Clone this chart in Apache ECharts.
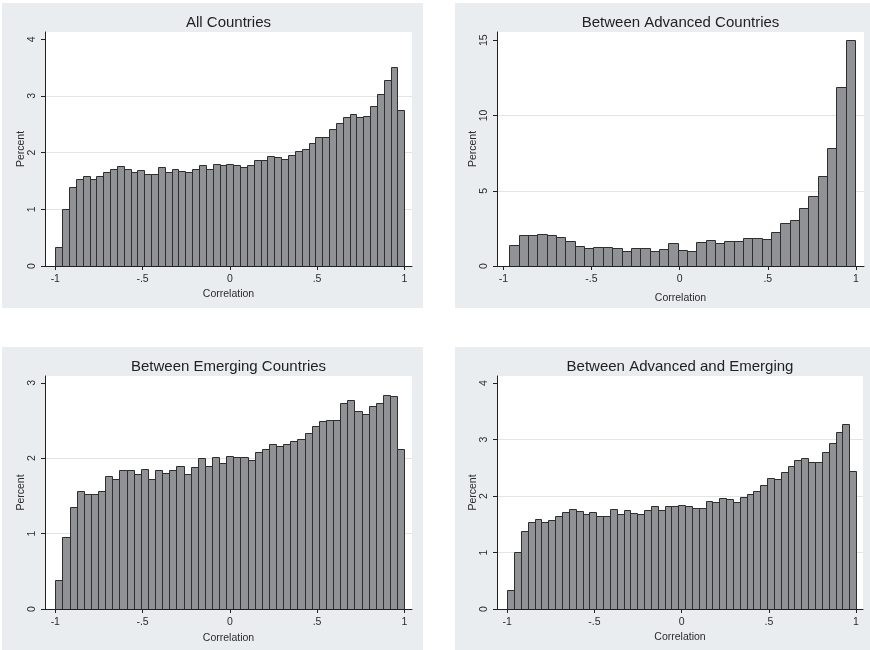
<!DOCTYPE html>
<html>
<head>
<meta charset="utf-8">
<title>Correlation histograms</title>
<script src="https://cdn.jsdelivr.net/npm/echarts@6/dist/echarts.min.js"></script>
<style>
  html, body { margin: 0; padding: 0; background: #ffffff; }
  #chart { width: 870px; height: 650px; }
</style>
</head>
<body>
<div id="chart"></div>
<script>
// Histogram heights (percent of pairs per bin)
const allCountries = [0.33,1.00,1.40,1.54,1.58,1.54,1.58,1.65,1.71,1.76,1.72,1.65,1.69,1.62,1.62,1.75,1.65,1.72,1.67,1.65,1.72,1.79,1.72,1.80,1.79,1.80,1.78,1.75,1.78,1.87,1.87,1.94,1.92,1.88,1.95,2.02,2.06,2.17,2.27,2.27,2.41,2.52,2.62,2.68,2.62,2.64,2.83,3.03,3.29,3.51,2.75];
const advancedCountries = [1.38,2.03,2.03,2.12,2.05,1.90,1.66,1.33,1.20,1.25,1.28,1.19,0.98,1.19,1.19,0.99,1.11,1.54,1.06,1.02,1.62,1.74,1.53,1.67,1.67,1.87,1.84,1.82,2.28,2.83,3.04,3.83,4.64,5.97,7.85,11.90,15.05];
const emergingCountries = [0.38,0.955,1.35,1.57,1.52,1.52,1.56,1.77,1.73,1.84,1.84,1.79,1.86,1.73,1.85,1.80,1.85,1.90,1.79,1.88,2.00,1.89,2.02,1.94,2.03,2.01,2.01,1.98,2.08,2.12,2.19,2.16,2.19,2.23,2.25,2.34,2.43,2.49,2.51,2.51,2.73,2.77,2.62,2.58,2.69,2.73,2.84,2.82,2.12];
const advancedEmerging = [0.34,1.01,1.38,1.54,1.59,1.54,1.58,1.65,1.72,1.77,1.73,1.68,1.72,1.65,1.65,1.77,1.68,1.75,1.70,1.69,1.75,1.82,1.76,1.83,1.82,1.84,1.82,1.78,1.79,1.91,1.89,1.96,1.95,1.89,1.98,2.04,2.09,2.19,2.31,2.30,2.43,2.53,2.63,2.67,2.60,2.60,2.77,2.93,3.14,3.28,2.44];

// Range of the binned correlations in each histogram
const binRangeAll = [-1, 1];
const binRangeAdvanced = [-0.966, 0.996];
const binRangeEmerging = [-1, 1];
const binRangeAdvEm = [-1, 1];

// Titles and tick labels
const panelTitles = ['All Countries', 'Between Advanced Countries', 'Between Emerging Countries', 'Between Advanced and Emerging'];
const xTickValues = [-1, -0.5, 0, 0.5, 1];
const xTickLabels = ['-1', '-.5', '0', '.5', '1'];
const yTicksAll = [0, 1, 2, 3, 4];
const yTicksAdvanced = [0, 5, 10, 15];
const yTicksEmerging = [0, 1, 2, 3];
const yTicksAdvEm = [0, 1, 2, 3, 4];
const xAxisTitle = 'Correlation';
const yAxisTitle = 'Percent';

const FONT = '"Liberation Sans", Arial, Helvetica, sans-serif';
const TEXT = '#2b2b2b';

const panels = [
  { heights: allCountries, range: binRangeAll, yTicks: yTicksAll, yStep: 1,
    grid: { left: 45, top: 32, width: 367, height: 234 },
    xExt: [-1.059, 1.044], yMax: 4.128, nameGap: 23,
    bg: [2, 3, 421, 305], title: [228.5, 23] },
  { heights: advancedCountries, range: binRangeAdvanced, yTicks: yTicksAdvanced, yStep: 5,
    grid: { left: 497, top: 32, width: 367, height: 234 },
    xExt: [-1.036, 1.046], yMax: 15.55, nameGap: 26.5,
    bg: [455, 3, 415, 305], title: [680.5, 23] },
  { heights: emergingCountries, range: binRangeEmerging, yTicks: yTicksEmerging, yStep: 1,
    grid: { left: 45, top: 376, width: 367, height: 233 },
    xExt: [-1.059, 1.044], yMax: 3.09, nameGap: 24,
    bg: [2, 347, 421, 303], title: [228.5, 366.5] },
  { heights: advancedEmerging, range: binRangeAdvEm, yTicks: yTicksAdvEm, yStep: 1,
    grid: { left: 497, top: 376, width: 366, height: 233 },
    xExt: [-1.059, 1.040], yMax: 4.124, nameGap: 23,
    bg: [455, 347, 415, 303], title: [680, 366.5] }
];

// Turn a list of bin heights into [left edge, right edge, height] rows
function toBins(heights, range) {
  const w = (range[1] - range[0]) / heights.length;
  return heights.map((h, i) => [range[0] + i * w, range[0] + (i + 1) * w, h]);
}

function renderBar(params, api) {
  const p0 = api.coord([api.value(0), 0]);
  const p1 = api.coord([api.value(1), api.value(2)]);
  const x0 = Math.round(p0[0]) + 0.5;
  const x1 = Math.round(p1[0]) + 0.5;
  const yb = Math.round(p0[1]) + 0.5;
  const yt = Math.round(p1[1]) + 0.5;
  return {
    type: 'rect',
    shape: { x: x0, y: yt, width: x1 - x0, height: yb - yt },
    style: { fill: '#919296', stroke: '#2e2e2e', lineWidth: 1 }
  };
}

const grids = [], xAxes = [], yAxes = [], series = [], graphics = [];

panels.forEach((p, i) => {
  graphics.push({
    type: 'rect', z: -10, silent: true,
    shape: { x: p.bg[0], y: p.bg[1], width: p.bg[2], height: p.bg[3] },
    style: { fill: '#eaedef' }
  });
  graphics.push({
    type: 'text', silent: true,
    x: p.title[0], y: p.title[1],
    style: { text: panelTitles[i], font: '15px ' + FONT, fill: '#222', align: 'center', verticalAlign: 'middle' }
  });
  grids.push(Object.assign({ show: true, backgroundColor: '#ffffff', borderWidth: 0 }, p.grid));
  xAxes.push({
    type: 'value', gridIndex: i, min: p.xExt[0], max: p.xExt[1],
    name: xAxisTitle, nameLocation: 'middle', nameGap: p.nameGap,
    nameTextStyle: { fontFamily: FONT, fontSize: 10.5, color: TEXT },
    axisLine: { show: true, onZero: false, lineStyle: { color: '#222', width: 1 } },
    axisTick: { show: true, length: 4, customValues: xTickValues, lineStyle: { color: '#222', width: 1 } },
    axisLabel: {
      show: true, customValues: xTickValues, margin: 8,
      fontFamily: FONT, fontSize: 10.5, color: TEXT,
      formatter: v => xTickLabels[xTickValues.indexOf(v)] ?? ''
    },
    splitLine: { show: false }
  });
  yAxes.push({
    type: 'value', gridIndex: i, min: 0, max: p.yMax, interval: p.yStep,
    name: yAxisTitle, nameLocation: 'middle', nameGap: 18, nameRotate: 90,
    nameMoveOverlap: false,
    nameTextStyle: { fontFamily: FONT, fontSize: 10.5, color: TEXT },
    axisLine: { show: true, onZero: false, lineStyle: { color: '#222', width: 1 } },
    axisTick: { show: true, length: 4, customValues: p.yTicks, lineStyle: { color: '#222', width: 1 } },
    axisLabel: {
      show: true, customValues: p.yTicks, rotate: 90, margin: 7,
      fontFamily: FONT, fontSize: 10.5, color: TEXT
    },
    splitLine: { show: true, showMinLine: false, showMaxLine: false, lineStyle: { color: '#e4e4e4', width: 1 } }
  });
  series.push({
    type: 'custom', xAxisIndex: i, yAxisIndex: i,
    data: toBins(p.heights, p.range),
    encode: { x: [0, 1], y: 2 },
    renderItem: renderBar,
    clip: true, silent: true
  });
});

const chart = echarts.init(document.getElementById('chart'), null, { renderer: 'canvas' });
chart.setOption({
  animation: false,
  backgroundColor: '#ffffff',
  grid: grids,
  xAxis: xAxes,
  yAxis: yAxes,
  series: series,
  graphic: graphics
});
</script>
</body>
</html>
